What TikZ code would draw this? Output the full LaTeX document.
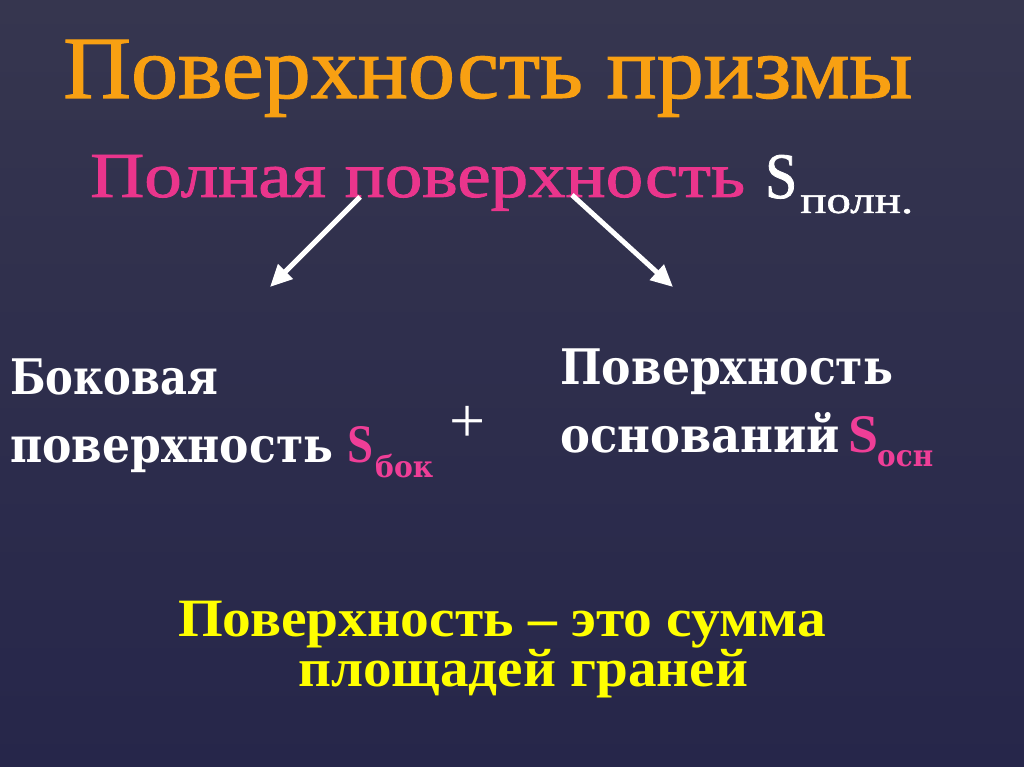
\documentclass[tikz,border=0pt]{standalone}
\usepackage{fontspec}
\usepackage{graphicx}
\usepackage{tikz}
\usetikzlibrary{arrows.meta}
\setmainfont{Liberation Serif}
\newfontfamily\headfont{Liberation Serif}[FakeBold=1.3]
\newfontfamily\bodyfont{DejaVu Serif}
\newfontfamily\sumfont{Liberation Serif}

\definecolor{bgtop}{HTML}{36364F}
\definecolor{bgmid}{HTML}{2F2F57}
\definecolor{bgbottom}{HTML}{26264A}
\definecolor{titleorange}{HTML}{F8A012}
\definecolor{fullpink}{HTML}{EA358C}
\definecolor{sidepink}{HTML}{EF3E97}
\definecolor{sumyellow}{HTML}{FFFF00}

\tikzset{
  txt/.style={inner sep=0pt, anchor=base west},
  arrowline/.style={white, line width=5pt, -{Triangle[length=22pt,width=20pt]}},
}

\begin{document}
\begin{tikzpicture}[x=1pt, y=1pt]
	% background
	\shade[top color=bgtop, middle color=bgmid, bottom color=bgbottom] (0,0) rectangle (1024,767);
	\useasboundingbox (0,0) rectangle (1024,767);

	% heading
	\node[txt, text=titleorange] (title) at (63,669) {\resizebox{849pt}{58pt}{\headfont Поверхность призмы}};
	\node[txt, text=fullpink] (full) at (90,570) {\resizebox{655pt}{42pt}{\headfont Полная поверхность}};
	\node[txt, text=white] (fullS) at (765,569) {\resizebox{32pt}{43pt}{\headfont S}};
	\node[txt, text=white] (fullsub) at (800,554) {\resizebox{113pt}{18pt}{\headfont полн.}};

	% arrows
	\coordinate (lefttail) at (360,570);
	\coordinate (lefthead) at (270,480);
	\coordinate (righttail) at (572,572);
	\coordinate (righthead) at (673,480);
	\draw[arrowline] (lefttail) -- (lefthead);
	\draw[arrowline] (righttail) -- (righthead);

	% lateral surface
	\node[txt, text=white] (side1) at (10,372) {\resizebox{208pt}{\height}{\fontsize{49}{49}\selectfont\bfseries\bodyfont Боковая}};
	\node[txt, text=white] (side2) at (10,304) {\resizebox{323pt}{\height}{\fontsize{49}{49}\selectfont\bfseries\bodyfont поверхность}};
	\node[txt, text=sidepink] (sideS) at (347,304) {\resizebox{26pt}{36pt}{\bfseries S}};
	\node[txt, text=sidepink] (sidesub) at (375,289) {\resizebox{58pt}{\height}{\fontsize{30}{30}\selectfont\bfseries\bodyfont бок}};
	\node[text=white, inner sep=0pt] (plus) at (468,343) {\fontsize{64}{64}\selectfont +};

	% bases
	\node[txt, text=white] (base1) at (560,382) {\resizebox{333pt}{\height}{\fontsize{49}{49}\selectfont\bfseries\bodyfont Поверхность}};
	\node[txt, text=white] (base2) at (560,314) {\resizebox{280pt}{\height}{\fontsize{49}{49}\selectfont\bfseries\bodyfont оснований}};
	\node[txt, text=sidepink] (baseS) at (848,314) {\resizebox{30pt}{36pt}{\bfseries S}};
	\node[txt, text=sidepink] (basesub) at (877,300) {\resizebox{56pt}{\height}{\fontsize{30}{30}\selectfont\bfseries\bodyfont осн}};

	% summary
	\node[txt, text=sumyellow] (sum1) at (178,130) {\resizebox{648pt}{\height}{\fontsize{54}{54}\selectfont\bfseries\sumfont Поверхность – это сумма}};
	\node[txt, text=sumyellow] (sum2) at (298,80) {\resizebox{450pt}{\height}{\fontsize{54}{54}\selectfont\bfseries\sumfont площадей граней}};
\end{tikzpicture}
\end{document}
